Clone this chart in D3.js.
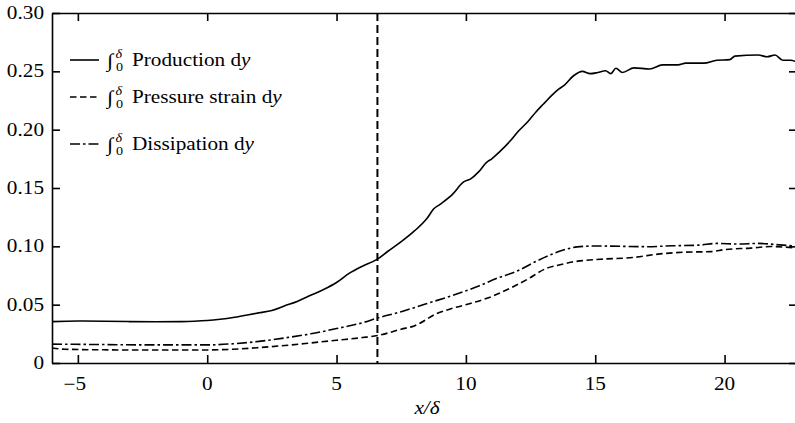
<!DOCTYPE html>
<html><head><meta charset="utf-8">
<script src="https://cdn.jsdelivr.net/npm/d3@7"></script>
<style>
html,body{margin:0;padding:0;background:#fff;}
</style></head>
<body>
<svg id="chart" width="795" height="423"></svg>
<script>
// ---- data ----
const productionX = [-6,-5,-4,-3,-2,-1,-0.5,0,0.5,1,1.5,2,2.5,3,3.5,4,4.5,5,5.5,6,6.58,7,7.5,8,8.5,8.75,9,9.5,9.9,10.2,10.5,10.8,11,11.3,11.7,12,12.4,12.7,13,13.3,13.6,13.8,14.15,14.5,14.8,15.1,15.4,15.6,15.8,16.05,16.5,17.1,17.6,18.2,18.5,19.2,19.7,20.2,20.4,21.3,21.65,21.95,22.25,22.55,22.8];
const productionY = [0.0355,0.0360,0.0358,0.0355,0.0354,0.0355,0.0358,0.0364,0.0375,0.039,0.041,0.043,0.045,0.049,0.053,0.058,0.063,0.069,0.077,0.083,0.089,0.096,0.104,0.113,0.124,0.132,0.136,0.145,0.155,0.158,0.164,0.172,0.175,0.181,0.190,0.198,0.207,0.215,0.222,0.229,0.235,0.238,0.246,0.250,0.248,0.249,0.2505,0.248,0.2526,0.249,0.253,0.252,0.2555,0.2555,0.257,0.257,0.2595,0.260,0.263,0.264,0.2625,0.264,0.2595,0.2595,0.258];

const pressureX = [-6,-5.5,-4,-2,0,1,2,3,4,5,6,6.58,7.5,8,8.9,9.5,10.2,11,11.7,12.4,13.1,13.6,14.1,15.2,16.5,17.5,18.5,19.5,20,21,21.8,22.8];
const pressureY = [0.0128,0.0118,0.0113,0.0111,0.0112,0.0118,0.0132,0.015,0.0172,0.0195,0.0218,0.0235,0.029,0.0318,0.0426,0.047,0.0512,0.057,0.064,0.072,0.081,0.084,0.0865,0.0889,0.0905,0.0935,0.095,0.0955,0.0972,0.0985,0.0998,0.0985];

const dissipationX = [-6,-4,-2,0,1,2,3,4,5,6,6.58,7.5,8.5,9.5,10.5,11.2,12,12.7,13.3,13.8,14.3,15,16,17,18,19,19.7,20.5,21.3,22,22.8];
const dissipationY = [0.0162,0.0158,0.0155,0.0155,0.0165,0.0185,0.0215,0.025,0.0295,0.0345,0.0385,0.044,0.051,0.058,0.066,0.0726,0.079,0.087,0.093,0.097,0.0995,0.1003,0.1000,0.0997,0.1005,0.101,0.1025,0.102,0.1025,0.1015,0.100];

const xTicks = [-5,0,5,10,15,20];
const xTickLabels = ["\u22125","0","5","10","15","20"];
const yTicks = [0,0.05,0.10,0.15,0.20,0.25,0.30];
const yTickLabels = ["0","0.05","0.10","0.15","0.20","0.25","0.30"];
const markerX = 6.58;
const legendNames = ["Production d","Pressure strain d","Dissipation d"];
const xLabel = "x/\u03B4";

// ---- layout ----
const FONT = "Liberation Serif";
const svg = d3.select("#chart");
const L = 52, R = 797, T = 13, B = 363;
const x = d3.scaleLinear().domain([-6, 22.8]).range([L, R]);
const y = d3.scaleLinear().domain([0, 0.30]).range([B, T]);
const SX = 1.18; // horizontal stretch of text

svg.append("defs").append("clipPath").attr("id","clip")
  .append("rect").attr("x",L).attr("y",T).attr("width",R-L).attr("height",B-T);

const series = [
  {xs: productionX, ys: productionY, dash: null},
  {xs: pressureX, ys: pressureY, dash: "6.5,3.5"},
  {xs: dissipationX, ys: dissipationY, dash: "10,3,2.5,3"}
];
const line = d3.line().x(d=>x(d[0])).y(d=>y(d[1])).curve(d3.curveMonotoneX);
const g = svg.append("g").attr("clip-path","url(#clip)");
series.forEach(s=>{
  g.append("path").datum(s.xs.map((v,i)=>[v,s.ys[i]]))
    .attr("d", line).attr("fill","none").attr("stroke","#000")
    .attr("stroke-width",1.6)
    .attr("stroke-dasharray", s.dash);
});

// vertical marker
g.append("line").attr("x1",x(markerX)).attr("x2",x(markerX)).attr("y1",T).attr("y2",B)
  .attr("stroke","#000").attr("stroke-width",2).attr("stroke-dasharray","8,4");

// axes via d3
const tl = 8;
function style(a){ a.selectAll("path,line").attr("stroke","#000").attr("stroke-width",1.6); }
svg.append("g").attr("transform",`translate(0,${B})`)
  .call(d3.axisTop(x).tickValues(xTicks).tickSize(tl).tickFormat("").tickSizeOuter(0)).call(style);
svg.append("g").attr("transform",`translate(0,${T})`)
  .call(d3.axisBottom(x).tickValues(xTicks).tickSize(tl).tickFormat("").tickSizeOuter(0)).call(style);
svg.append("g").attr("transform",`translate(${L},0)`)
  .call(d3.axisRight(y).tickValues(yTicks).tickSize(tl).tickFormat("").tickSizeOuter(0)).call(style);
svg.append("g").attr("transform",`translate(${R},0)`)
  .call(d3.axisLeft(y).tickValues(yTicks).tickSize(tl).tickFormat("").tickSizeOuter(0)).call(style);

// tick labels
const fs = 18;
function txt(tx, ty, size){
  return svg.append("text").attr("transform",`translate(${tx},${ty}) scale(${SX},1)`)
    .attr("font-family",FONT).attr("font-size",size).attr("fill","#000");
}
yTicks.forEach((v,i)=>{
  txt(44, y(v)+6, fs).attr("text-anchor","end").text(yTickLabels[i]);
});
xTicks.forEach((v,i)=>{
  const dx = v<0 ? -3 : 0;
  txt(x(v)+dx, 390, fs).attr("text-anchor","middle").text(xTickLabels[i]);
});
// x label
txt(427, 414, fs).attr("text-anchor","middle").attr("font-style","italic").text(xLabel);

// legend
const legY = [60, 97, 144];
const legDash = [null, "6.5,3.5", "10,3,2.5,3"];
legendNames.forEach((name,i)=>{
  const ly = legY[i];
  svg.append("line").attr("x1",70).attr("x2",99).attr("y1",ly).attr("y2",ly)
    .attr("stroke","#000").attr("stroke-width",1.6).attr("stroke-dasharray",legDash[i]);
  txt(107, ly+7, 19).text("\u222B");
  txt(115.5, ly-2, 12).attr("font-style","italic").text("\u03B4");
  txt(116, ly+11, 12).text("0");
  const t = txt(132, ly+6, fs);
  t.append("tspan").text(name);
  t.append("tspan").attr("font-style","italic").text("y");
});
</script>
</body></html>
